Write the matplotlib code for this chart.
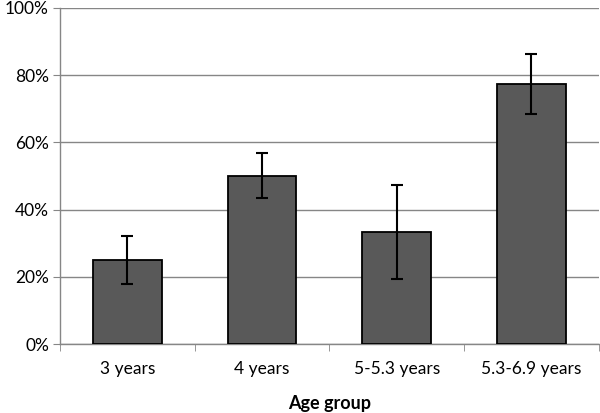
import matplotlib
matplotlib.use("Agg")
import matplotlib.pyplot as plt
from matplotlib.ticker import PercentFormatter, FixedLocator

categories = ["3 years", "4 years", "5-5.3 years", "5.3-6.9 years"]
values = [25.0, 50.0, 33.3, 77.3]
errors = [7.1, 6.7, 14.0, 8.9]
yticks = [0, 20, 40, 60, 80, 100]

plt.rcParams['font.family'] = ['Lato', 'DejaVu Sans']

fig = plt.figure(figsize=(6.0, 4.13), dpi=100)
ax = fig.add_axes([0.1, 0.167, 0.898, 0.814])

x = list(range(len(categories)))
ax.bar(x, values, width=0.51, color="#595959", edgecolor="black", linewidth=1.3, zorder=3)
ax.errorbar(x, values, yerr=errors, fmt="none", ecolor="black", elinewidth=1.5,
            capsize=4.5, capthick=1.5, zorder=4)

ax.set_xlim(-0.5, len(categories) - 0.5)
ax.set_ylim(0, 100)
ax.set_yticks(yticks)
ax.yaxis.set_major_formatter(PercentFormatter(decimals=0))
ax.yaxis.grid(True, color="#868686", linewidth=1.0, zorder=0)

ax.set_xticks(x)
ax.set_xticklabels(categories)
ax.xaxis.set_minor_locator(FixedLocator([i - 0.5 for i in range(len(categories) + 1)]))
ax.tick_params(axis="x", which="major", length=0, pad=12, labelsize=12.5)
ax.tick_params(axis="x", which="minor", length=5, color="#868686", direction="out")
ax.tick_params(axis="y", length=5, color="#868686", labelsize=12.5, pad=3)

for s in ["top", "right"]:
    ax.spines[s].set_visible(False)
for s in ["left", "bottom"]:
    ax.spines[s].set_color("#868686")
    ax.spines[s].set_linewidth(1.0)

fig.text(0.549, 0.022, "Age group", fontsize=13, fontweight="bold", ha="center", va="center")

fig.savefig("out.png", dpi=100)
